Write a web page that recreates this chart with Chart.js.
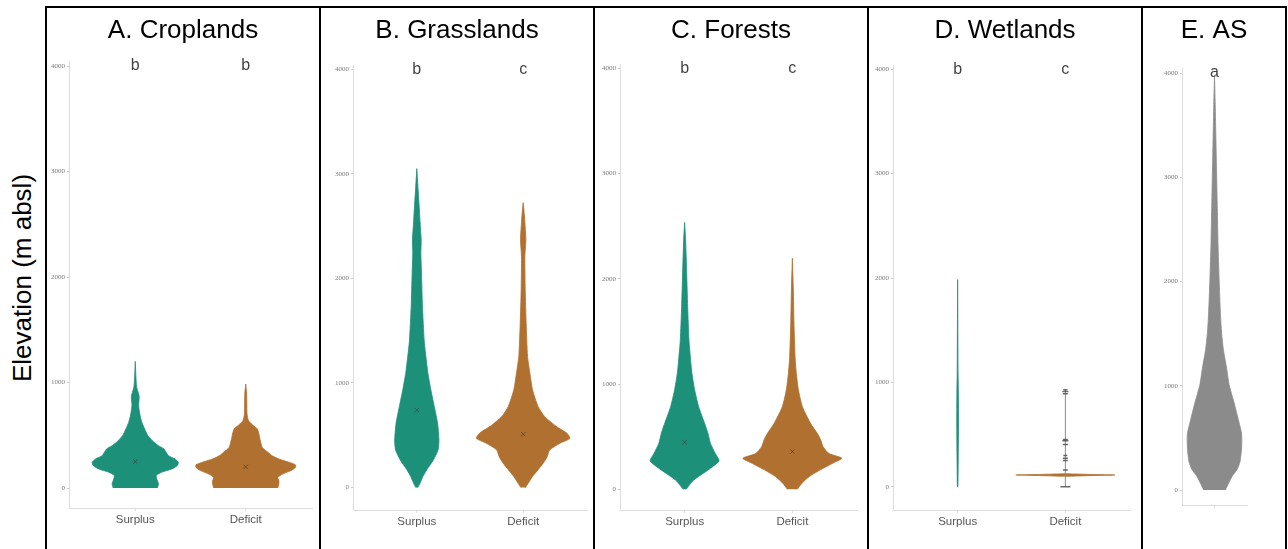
<!DOCTYPE html>
<html>
<head>
<meta charset="utf-8">
<script src="https://cdn.jsdelivr.net/npm/chart.js@4.4.0/dist/chart.umd.min.js"></script>
<style>
  body { margin: 0; background: #fff; width: 1288px; height: 549px; overflow: hidden; position: relative; font-family: 'Liberation Sans', Arial, sans-serif; }
  canvas { position: absolute; top: 0; }
  .frame { position: absolute; left: 45px; top: 6px; width: 1242px; height: 620px; border: 2px solid #000; box-sizing: border-box; pointer-events: none; }
  .divider { position: absolute; top: 6px; width: 2px; height: 620px; background: #000; pointer-events: none; }
  #ylabel { position: absolute; left: 22px; top: 278px; transform: translate(-50%, -50%) rotate(-90deg); font-size: 26px; color: #000; white-space: nowrap; }
</style>
</head>
<body>
<canvas id="c0" width="272" height="549" style="left:47px"></canvas>
<canvas id="c1" width="272" height="549" style="left:321px"></canvas>
<canvas id="c2" width="272" height="549" style="left:595px"></canvas>
<canvas id="c3" width="272" height="549" style="left:869px"></canvas>
<canvas id="c4" width="142" height="549" style="left:1143px"></canvas>
<div id="ylabel">Elevation (m absl)</div>
<div class="frame"></div>
<div class="divider" style="left:319px"></div>
<div class="divider" style="left:593px"></div>
<div class="divider" style="left:867px"></div>
<div class="divider" style="left:1141px"></div>
<script>
// data
const categories = ['Surplus', 'Deficit'];
const panelTitles = ['A. Croplands', 'B. Grasslands', 'C. Forests', 'D. Wetlands', 'E. AS'];
const groupLetters = [['b', 'b'], ['b', 'c'], ['b', 'c'], ['b', 'c'], ['a']];
const yTicks = [0, 1000, 2000, 3000, 4000];

// violin outlines: elevation (m) and half width (in category units)
const cropSurplusElev  = [0, 40, 85, 120, 150, 180, 212, 243, 275, 306, 338, 370, 401, 433, 496, 560, 622, 680, 740, 790, 830, 870, 910, 960, 1050, 1200];
const cropSurplusWidth = [0.20, 0.21, 0.195, 0.19, 0.24, 0.33, 0.38, 0.39, 0.36, 0.30, 0.28, 0.26, 0.21, 0.17, 0.115, 0.085, 0.06, 0.045, 0.035, 0.03, 0.034, 0.035, 0.025, 0.012, 0.006, 0];
const cropDeficitElev  = [0, 40, 70, 100, 130, 165, 195, 220, 245, 275, 305, 340, 385, 460, 510, 560, 600, 640, 700, 800, 900, 985];
const cropDeficitWidth = [0.29, 0.30, 0.30, 0.29, 0.33, 0.41, 0.45, 0.45, 0.39, 0.30, 0.24, 0.20, 0.15, 0.13, 0.12, 0.105, 0.06, 0.025, 0.012, 0.01, 0.008, 0];

const grassSurplusElev  = [0, 40, 105, 170, 265, 360, 455, 615, 775, 935, 1095, 1255, 1410, 1730, 2050, 2240, 2370, 2530, 2690, 2850, 3050];
const grassSurplusWidth = [0.01, 0.03, 0.057, 0.094, 0.157, 0.20, 0.208, 0.195, 0.164, 0.132, 0.104, 0.085, 0.069, 0.053, 0.044, 0.038, 0.041, 0.031, 0.022, 0.012, 0];
const grassDeficitElev  = [0, 40, 105, 170, 235, 295, 360, 425, 470, 520, 585, 680, 775, 935, 1095, 1255, 1570, 1890, 2210, 2370, 2620, 2725];
const grassDeficitWidth = [0.022, 0.047, 0.088, 0.14, 0.19, 0.226, 0.25, 0.35, 0.44, 0.41, 0.31, 0.20, 0.14, 0.088, 0.063, 0.041, 0.028, 0.019, 0.016, 0.025, 0.01, 0];

const forestSurplusElev  = [0, 40, 90, 150, 215, 270, 340, 435, 530, 625, 785, 945, 1100, 1260, 1420, 1735, 2050, 2370, 2535];
const forestSurplusWidth = [0.015, 0.043, 0.087, 0.17, 0.26, 0.32, 0.285, 0.24, 0.217, 0.186, 0.13, 0.093, 0.068, 0.053, 0.04, 0.028, 0.019, 0.009, 0];
const forestDeficitElev  = [0, 55, 120, 185, 245, 295, 340, 405, 470, 530, 625, 785, 945, 1100, 1260, 1575, 1895, 2195];
const forestDeficitWidth = [0.046, 0.087, 0.155, 0.26, 0.37, 0.46, 0.34, 0.285, 0.263, 0.232, 0.17, 0.093, 0.056, 0.037, 0.025, 0.015, 0.009, 0];

const wetSurplusElev  = [0, 300, 600, 900, 1100, 1500, 1985];
const wetSurplusWidth = [0.003, 0.006, 0.008, 0.007, 0.004, 0.002, 0];
const wetDeficitElev  = [100, 108, 112, 116, 124];
const wetDeficitWidth = [0, 0.3, 0.46, 0.3, 0];
const wetDeficitWhisker  = [0, 930];
const wetDeficitOutliers = [0, 160, 250, 272, 300, 405, 440, 452, 890, 912, 930];

const asElev  = [0, 65, 135, 200, 270, 400, 540, 675, 840, 1010, 1180, 1350, 1515, 1685, 2020, 2360, 2700, 3030, 3370, 3700, 3975];
const asWidth = [0.20, 0.26, 0.33, 0.42, 0.47, 0.50, 0.50, 0.44, 0.36, 0.27, 0.22, 0.163, 0.13, 0.11, 0.085, 0.065, 0.052, 0.039, 0.026, 0.013, 0];

const cropMeans = [250, 200];
const grassMeans = [740, 510];
const forestMeans = [447, 358];

// where each panel sits on the page
const layout = [
  {left: 47,   width: 272, axisX: 69,   areaRight: 312,  zeroPx: 488,   topTickPx: 66,   axisPx: 508},
  {left: 321,  width: 272, axisX: 353,  areaRight: 587,  zeroPx: 487.5, topTickPx: 69.3, axisPx: 510},
  {left: 595,  width: 272, axisX: 620,  areaRight: 857,  zeroPx: 489.3, topTickPx: 68.3, axisPx: 510},
  {left: 869,  width: 272, axisX: 893,  areaRight: 1130, zeroPx: 486.7, topTickPx: 69.3, axisPx: 510},
  {left: 1143, width: 142, axisX: 1182, areaRight: 1247, zeroPx: 490,   topTickPx: 73,   axisPx: 505}
];

const TEAL = '#1c9079';
const BROWN = '#b0702f';
const GREY = '#8b8b8b';
const H = 549;

function violin(elev, half, center, color) {
    const right = elev.map((e, k) => ({x: center + half[k], y: e}));
    const left = elev.map((e, k) => ({x: center - half[k], y: e})).reverse();
    return {
        data: right.concat(left),
        showLine: true,
        fill: 'shape',
        backgroundColor: color,
        borderColor: color,
        borderWidth: 0.8,
        pointRadius: 0,
        tension: 0.2,
        order: 3
    };
}

function meanMarks(means) {
    return {
        data: means.map((m, i) => ({x: i + 1, y: m})),
        pointStyle: 'crossRot',
        pointRadius: 3,
        borderColor: 'rgba(55,55,55,0.6)',
        backgroundColor: 'rgba(0,0,0,0)',
        borderWidth: 1,
        order: 0
    };
}

const letterPlugin = {
    id: 'groupLetters',
    afterDatasetsDraw(chart, args, opts) {
        const {ctx, scales: {x, y}} = chart;
        ctx.save();
        ctx.font = '16px "Liberation Sans", Arial, sans-serif';
        ctx.fillStyle = '#444';
        ctx.textAlign = 'center';
        ctx.textBaseline = 'middle';
        opts.letters.forEach((t, i) => ctx.fillText(t, x.getPixelForValue(i + 1), y.getPixelForValue(4000)));
        ctx.restore();
    }
};

const panelData = [
    [violin(cropSurplusElev, cropSurplusWidth, 1, TEAL), violin(cropDeficitElev, cropDeficitWidth, 2, BROWN), meanMarks(cropMeans)],
    [violin(grassSurplusElev, grassSurplusWidth, 1, TEAL), violin(grassDeficitElev, grassDeficitWidth, 2, BROWN), meanMarks(grassMeans)],
    [violin(forestSurplusElev, forestSurplusWidth, 1, TEAL), violin(forestDeficitElev, forestDeficitWidth, 2, BROWN), meanMarks(forestMeans)],
    [
        violin(wetSurplusElev, wetSurplusWidth, 1, TEAL),
        violin(wetDeficitElev, wetDeficitWidth, 2, BROWN),
        {data: wetDeficitWhisker.map(v => ({x: 2, y: v})), showLine: true, borderColor: '#8a8a8a', borderWidth: 1, pointRadius: 0, order: 2},
        {data: wetDeficitOutliers.map(v => ({x: 2, y: v})), pointStyle: 'line', pointRadius: [5, 2.5, 2.5, 2.5, 2, 2.5, 3, 2.5, 2.5, 3, 2], borderColor: 'rgba(70,70,70,0.8)', borderWidth: 1.5, order: 1}
    ],
    [violin(asElev, asWidth, 1, GREY)]
];

panelTitles.forEach((title, p) => {
    const L = layout[p];
    const cats = p === 4 ? [''] : categories;
    const ppu = (L.zeroPx - L.topTickPx) / 4000;
    const yMax = 4040;
    const yMin = -(L.axisPx - L.zeroPx) / ppu;
    const areaTop = L.topTickPx - (yMax - 4000) * ppu;

    new Chart(document.getElementById('c' + p), {
        type: 'scatter',
        data: {datasets: panelData[p]},
        plugins: [letterPlugin],
        options: {
            responsive: false,
            animation: false,
            events: [],
            layout: {padding: 0},
            plugins: {
                legend: {display: false},
                tooltip: {enabled: false},
                title: {
                    display: true,
                    text: title,
                    color: '#000',
                    font: {size: 26, family: 'Liberation Sans', weight: 'normal'},
                    padding: {top: 15.4, bottom: areaTop - 46.6}
                },
                groupLetters: {letters: groupLetters[p]}
            },
            scales: {
                x: {
                    type: 'linear',
                    min: 0.4,
                    max: cats.length + 0.6,
                    afterBuildTicks: s => { s.ticks = cats.map((c, i) => ({value: i + 1})); },
                    ticks: {callback: v => cats[v - 1], font: {size: 11.5, family: 'Liberation Sans'}, color: '#555', padding: 2, autoSkip: false, maxRotation: 0},
                    grid: {display: true, drawOnChartArea: false, tickLength: 3, color: '#ddd'},
                    border: {color: '#ddd', width: 1},
                    afterFit: s => { s.height = H - L.axisPx; }
                },
                y: {
                    type: 'linear',
                    min: yMin,
                    max: yMax,
                    afterBuildTicks: s => { s.ticks = yTicks.map(v => ({value: v})); },
                    ticks: {callback: v => String(v), font: {size: 7, family: 'Liberation Sans Narrow'}, color: '#7a7a7a', padding: 2},
                    grid: {display: true, drawOnChartArea: false, tickLength: 2, color: '#ccc'},
                    border: {color: '#ddd', width: 1},
                    afterFit: s => { s.width = L.axisX - L.left; }
                },
                pad: {
                    type: 'linear',
                    position: 'right',
                    grid: {display: false},
                    border: {display: false},
                    ticks: {display: false},
                    afterFit: s => { s.width = L.left + L.width - L.areaRight; }
                }
            }
        }
    });
});
</script>
</body>
</html>
